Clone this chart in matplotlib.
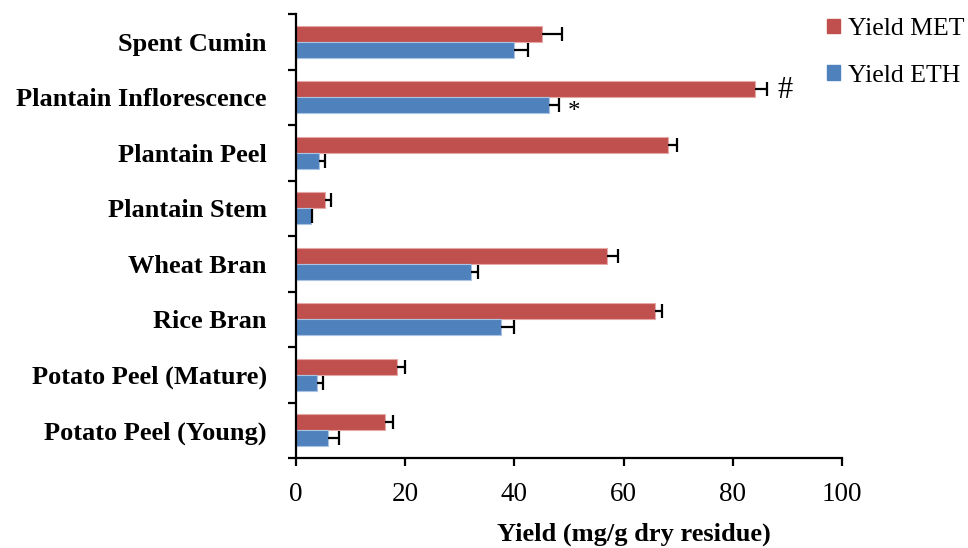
import matplotlib
matplotlib.use("Agg")
import matplotlib.pyplot as plt
import numpy as np
from matplotlib.patches import Patch

categories = ["Potato Peel (Young)", "Potato Peel (Mature)", "Rice Bran", "Wheat Bran",
              "Plantain Stem", "Plantain Peel", "Plantain Inflorescence", "Spent Cumin"]
yield_met = [16.3, 18.5, 65.8, 57.0, 5.3, 68.2, 84.1, 45.1]
err_met = [1.5, 1.5, 1.2, 2.0, 1.1, 1.5, 2.2, 3.7]
yield_eth = [5.9, 3.9, 37.5, 32.1, 2.7, 4.2, 46.4, 40.0]
err_eth = [2.0, 1.1, 2.4, 1.2, 0.3, 1.2, 1.7, 2.4]
xticks = [0, 20, 40, 60, 80, 100]

plt.rcParams['font.family'] = ['Liberation Serif', 'DejaVu Serif']

fig = plt.figure(figsize=(9.68, 5.48), dpi=100)
ax = fig.add_axes([296/968, 1-458/548, (842-296)/968, (458-14)/548])

y = np.arange(len(categories))
h = 0.29
red = "#C0504D"
blue = "#4F81BD"


def bars_with_err(ypos, vals, errs, color, edge):
    vals = np.asarray(vals)
    errs = np.asarray(errs)
    ax.barh(ypos, vals, height=h, color=color, edgecolor=edge, linewidth=0.8)
    ax.hlines(ypos, vals, vals + errs, colors="black", linewidth=1.6, zorder=3)
    ax.plot(vals + errs, ypos, ls="none", marker="|", markersize=10, markeredgewidth=1.6,
            color="black", zorder=3)


bars_with_err(y + h/2, yield_met, err_met, red, "#E6A8A6")
bars_with_err(y - h/2, yield_eth, err_eth, blue, "#A9C3E3")

ax.set_xlim(0, 100)
ax.set_ylim(-0.5, len(categories) - 0.5)
ax.set_xticks(xticks)
ax.set_xticklabels([str(v) for v in xticks], fontsize=19.5)
ax.set_yticks(y)
ax.set_yticklabels(categories, fontsize=19, fontweight="bold")
ax.tick_params(axis="y", which="major", length=0, pad=21)
ax.set_yticks(np.arange(-0.5, len(categories), 1.0), minor=True)
ax.tick_params(axis="y", which="minor", length=6, width=1.6)
ax.tick_params(axis="x", which="major", length=6, width=1.6, pad=11)
for s in ["top", "right"]:
    ax.spines[s].set_visible(False)
for s in ["left", "bottom"]:
    ax.spines[s].set_linewidth(1.6)

fig.text(634/968, 1-534/548, "Yield (mg/g dry residue)", fontsize=19, fontweight="bold",
         ha="center", va="center")

i = categories.index("Plantain Inflorescence")
ax.text(yield_met[i] + err_met[i] + 1.8, y[i] + h/2 - 0.03, "#", fontsize=22, va="center", ha="left")
ax.text(yield_eth[i] + err_eth[i] + 1.6, y[i] - h/2 - 0.12, "*", fontsize=18, va="center", ha="left")

handles = [Patch(color=red), Patch(color=blue)]
fig.legend(handles, ["Yield MET", "Yield ETH"], loc="upper left", bbox_to_anchor=(817/968, 1-8/548),
           frameon=False, fontsize=18.5, handlelength=0.5, handleheight=0.5, handletextpad=0.3,
           labelspacing=0.95, borderaxespad=0)

fig.savefig("out.png", dpi=100)
